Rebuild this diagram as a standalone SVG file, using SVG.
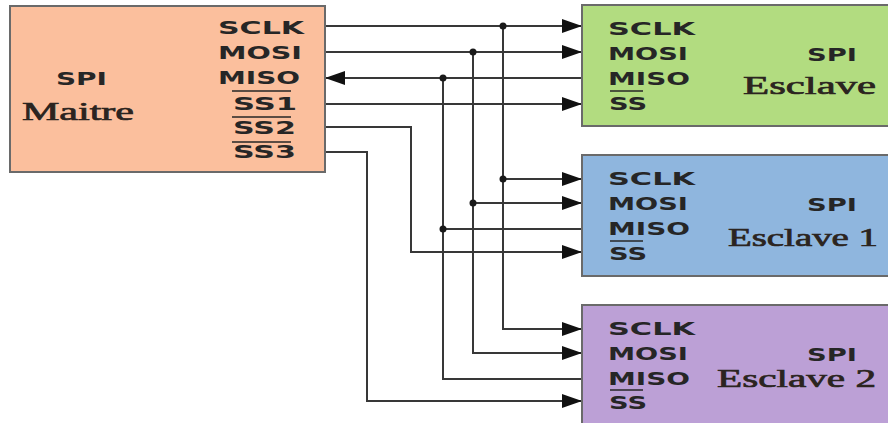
<svg xmlns="http://www.w3.org/2000/svg" width="888" height="423" viewBox="0 0 888 423">
<style>
.box{stroke:#6a6a6a;stroke-width:2}
.pin{font-family:"DejaVu Sans",sans-serif;font-weight:bold;font-size:18px;fill:#262626}
.name{font-family:"Liberation Serif",serif;font-size:26px;fill:#2b2420;stroke:#2b2420;stroke-width:0.7}
.ov{stroke:#262626;stroke-width:1.6}
.w{fill:none;stroke:#383838;stroke-width:2}
.dot{fill:#1a1a1a}
</style>
<defs>
<marker id="ah" viewBox="0 0 20 14" refX="20" refY="7" markerWidth="20" markerHeight="14" markerUnits="userSpaceOnUse" orient="auto">
<path d="M0,0 L20,7 L0,14 z" fill="#111"/>
</marker>
</defs>
<rect width="888" height="423" fill="#fff"/>
<g id="connectors">
<path class="w" d="M325,26 H582" marker-end="url(#ah)"/>
<path class="w" d="M325,52 H582" marker-end="url(#ah)"/>
<path class="w" d="M582,78 H325" marker-end="url(#ah)"/>
<path class="w" d="M325,104 H582" marker-end="url(#ah)"/>
<path class="w" d="M325,127 H411 V252 H582" marker-end="url(#ah)"/>
<path class="w" d="M325,152 H367 V401 H582" marker-end="url(#ah)"/>
<path class="w" d="M503,26 V329 H582" marker-end="url(#ah)"/>
<path class="w" d="M473,52 V353 H582" marker-end="url(#ah)"/>
<path class="w" d="M443,78 V379 H582"/>
<path class="w" d="M503,179 H582" marker-end="url(#ah)"/>
<path class="w" d="M473,203 H582" marker-end="url(#ah)"/>
<path class="w" d="M443,229 H582"/>
<circle class="dot" cx="503" cy="26" r="3.5"/>
<circle class="dot" cx="473" cy="52" r="3.5"/>
<circle class="dot" cx="443" cy="78" r="3.5"/>
<circle class="dot" cx="503" cy="179" r="3.5"/>
<circle class="dot" cx="473" cy="203" r="3.5"/>
<circle class="dot" cx="443" cy="229" r="3.5"/>
</g>
<g id="maitre">
<rect class="box" x="10" y="6" width="315" height="166" fill="#FBBF9D"/>
<text class="pin" x="218" y="34" textLength="86" lengthAdjust="spacingAndGlyphs">SCLK</text>
<text class="pin" x="218" y="59" textLength="84" lengthAdjust="spacingAndGlyphs">MOSI</text>
<text class="pin" x="218" y="84" textLength="82" lengthAdjust="spacingAndGlyphs">MISO</text>
<text class="pin" x="233" y="110" textLength="64" lengthAdjust="spacingAndGlyphs">SS1</text>
<text class="pin" x="233" y="134" textLength="63" lengthAdjust="spacingAndGlyphs">SS2</text>
<text class="pin" x="233" y="158" textLength="63" lengthAdjust="spacingAndGlyphs">SS3</text>
<line class="ov" x1="232" y1="91" x2="291" y2="91"/>
<line class="ov" x1="232" y1="117" x2="291" y2="117"/>
<line class="ov" x1="232" y1="142" x2="291" y2="142"/>
<text class="pin" x="56" y="85" textLength="51" lengthAdjust="spacingAndGlyphs">SPI</text>
<text class="name" x="22" y="120" textLength="112" lengthAdjust="spacingAndGlyphs">Maitre</text>
</g>
<g id="esclave">
<rect class="box" x="582" y="5" width="320" height="121" fill="#B2DC80"/>
<text class="pin" x="608" y="35" textLength="87" lengthAdjust="spacingAndGlyphs">SCLK</text>
<text class="pin" x="608" y="60" textLength="80" lengthAdjust="spacingAndGlyphs">MOSI</text>
<text class="pin" x="608" y="85" textLength="82" lengthAdjust="spacingAndGlyphs">MISO</text>
<text class="pin" x="609" y="110" textLength="38" lengthAdjust="spacingAndGlyphs">SS</text>
<line class="ov" x1="610" y1="91" x2="643" y2="91"/>
<text class="pin" x="807" y="61" textLength="50" lengthAdjust="spacingAndGlyphs">SPI</text>
<text class="name" x="743" y="94" textLength="133" lengthAdjust="spacingAndGlyphs">Esclave</text>
</g>
<g id="esclave1">
<rect class="box" x="582" y="155" width="320" height="121" fill="#8FB6DE"/>
<text class="pin" x="608" y="185" textLength="87" lengthAdjust="spacingAndGlyphs">SCLK</text>
<text class="pin" x="608" y="210" textLength="80" lengthAdjust="spacingAndGlyphs">MOSI</text>
<text class="pin" x="608" y="235" textLength="82" lengthAdjust="spacingAndGlyphs">MISO</text>
<text class="pin" x="609" y="260" textLength="38" lengthAdjust="spacingAndGlyphs">SS</text>
<line class="ov" x1="610" y1="241" x2="643" y2="241"/>
<text class="pin" x="807" y="211" textLength="50" lengthAdjust="spacingAndGlyphs">SPI</text>
<text class="name" x="728" y="246" textLength="150" lengthAdjust="spacingAndGlyphs">Esclave 1</text>
</g>
<g id="esclave2">
<rect class="box" x="582" y="305" width="320" height="130" fill="#BCA0D6"/>
<text class="pin" x="608" y="335" textLength="87" lengthAdjust="spacingAndGlyphs">SCLK</text>
<text class="pin" x="608" y="360" textLength="80" lengthAdjust="spacingAndGlyphs">MOSI</text>
<text class="pin" x="608" y="385" textLength="82" lengthAdjust="spacingAndGlyphs">MISO</text>
<text class="pin" x="609" y="409" textLength="38" lengthAdjust="spacingAndGlyphs">SS</text>
<line class="ov" x1="610" y1="390" x2="643" y2="390"/>
<text class="pin" x="807" y="361" textLength="50" lengthAdjust="spacingAndGlyphs">SPI</text>
<text class="name" x="717" y="387" textLength="159" lengthAdjust="spacingAndGlyphs">Esclave 2</text>
</g>
</svg>
